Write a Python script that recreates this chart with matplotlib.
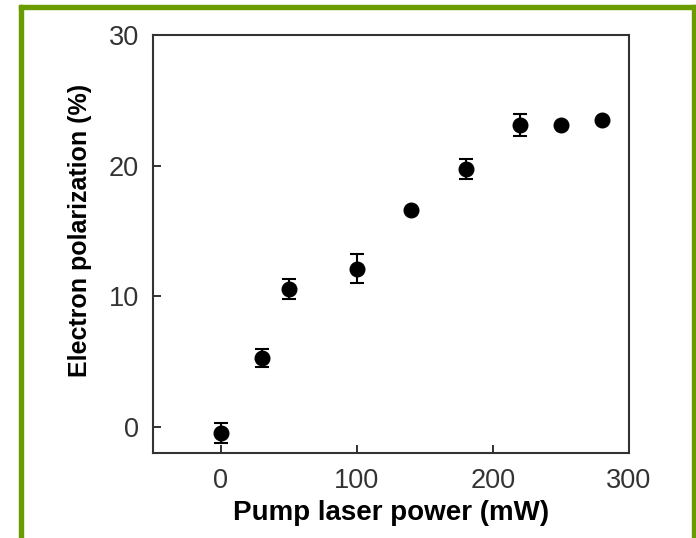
import matplotlib
matplotlib.use("Agg")
import matplotlib.pyplot as plt
from matplotlib.patches import Rectangle

power = [0, 30, 50, 100, 140, 180, 220, 250, 280]
polarization = [-0.45, 5.3, 10.55, 12.1, 16.6, 19.75, 23.1, 23.1, 23.5]
errors = [0.75, 0.7, 0.75, 1.1, 0.0, 0.75, 0.85, 0.0, 0.0]

xticks = [0, 100, 200, 300]
yticks = [0, 10, 20, 30]

plt.rcParams['font.family'] = ['Liberation Sans', 'DejaVu Sans']

fig = plt.figure(figsize=(6.96, 5.38), dpi=100)
ax = fig.add_axes([153/696, 1-453/538, (629-153)/696, (453-35)/538])

ax.errorbar(power, polarization, yerr=errors, fmt='o', color='black',
            markersize=10.5, ecolor='black', elinewidth=1.5, capsize=5, capthick=1.5)

ax.set_xlim(-50, 300)
ax.set_ylim(-2, 30)
ax.set_xticks(xticks)
ax.set_yticks(yticks)
ax.tick_params(direction='in', length=6, width=1.3, labelsize=19.5,
               labelcolor='#333333', color='#222222', pad=10)
ax.tick_params(axis='x', pad=11)
for s in ax.spines.values():
    s.set_linewidth(1.5)
    s.set_color('#333333')

ax.set_xlabel('Pump laser power (mW)', fontsize=20, fontweight='bold', labelpad=4)
ax.set_ylabel('Electron polarization (%)', fontsize=18, fontweight='bold', labelpad=12)
ax.yaxis.label.set_y(0.533)

green = '#6a9c00'
fig.patches.append(Rectangle((19/696, 0), 4/696, 1-5/538, transform=fig.transFigure,
                             color=green, zorder=10))
fig.patches.append(Rectangle((19/696, 1-9/538), (696-19)/696, 4/538, transform=fig.transFigure,
                             color=green, zorder=10))
fig.patches.append(Rectangle((692/696, 0), 4/696, 1-5/538, transform=fig.transFigure,
                             color=green, zorder=10))

fig.savefig('out.png', dpi=100)
